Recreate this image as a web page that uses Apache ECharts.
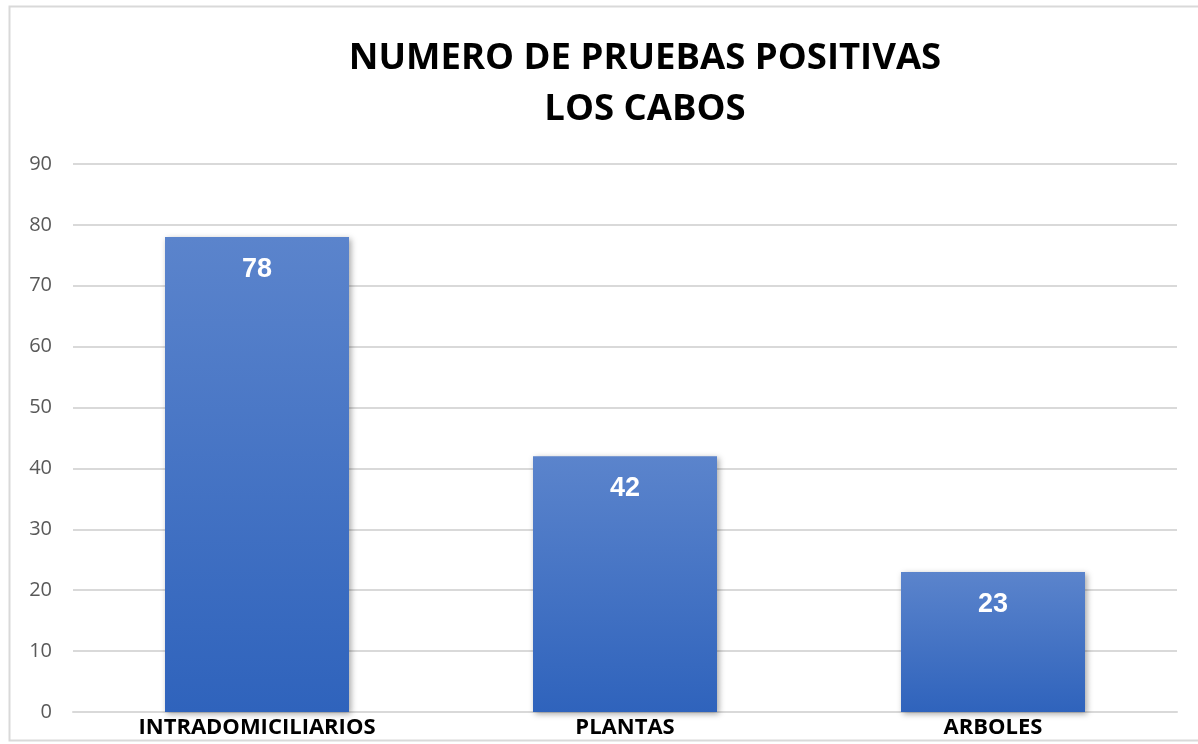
<!DOCTYPE html>
<html>
<head>
<meta charset="utf-8">
<script src="https://cdn.jsdelivr.net/npm/echarts@6/dist/echarts.min.js"></script>
<style>
  html, body { margin: 0; padding: 0; background: #fff; }
  #chart { width: 1198px; height: 744px; }
</style>
</head>
<body>
<div id="chart"></div>
<script>
// datos de la grafica
const categorias = ["INTRADOMICILIARIOS", "PLANTAS", "ARBOLES"];
const pruebasPositivas = [78, 42, 23];
const titulo = "NUMERO DE PRUEBAS POSITIVAS\nLOS CABOS";

const chart = echarts.init(document.getElementById("chart"));

const option = {
  backgroundColor: "#fff",
  animation: false,
  graphic: [
    {
      type: "rect",
      shape: { x: 9.5, y: 6.5, width: 1200, height: 734 },
      style: { fill: "none", stroke: "#d9d9d9", lineWidth: 2 },
      silent: true,
    },
  ],
  title: {
    text: titulo,
    left: 645,
    textAlign: "center",
    top: 28,
    textStyle: {
      fontFamily: "Open Sans",
      fontWeight: "bold",
      fontSize: 36.5,
      lineHeight: 51,
      color: "#000",
    },
  },
  grid: { left: 73, right: 21, top: 164, bottom: 32 },
  xAxis: {
    type: "category",
    data: categorias,
    axisTick: { show: false },
    axisLine: { lineStyle: { color: "#d9d9d9", width: 2 } },
    axisLabel: {
      color: "#000",
      fontFamily: "Open Sans",
      fontWeight: "bold",
      fontSize: 22,
      margin: 5,
    },
  },
  yAxis: {
    type: "value",
    min: 0,
    max: 90,
    interval: 10,
    axisLine: { show: false },
    axisTick: { show: false },
    splitLine: { lineStyle: { color: "#d9d9d9", width: 2 } },
    axisLabel: {
      color: "#595959",
      fontFamily: "Open Sans",
      fontSize: 20,
      margin: 21,
    },
  },
  series: [
    {
      type: "bar",
      data: pruebasPositivas,
      barWidth: "50%",
      itemStyle: {
        color: new echarts.graphic.LinearGradient(0, 0, 0, 1, [
          { offset: 0, color: "#5b84cc" },
          { offset: 1, color: "#2f63bc" },
        ]),
        shadowColor: "rgba(0,0,0,0.35)",
        shadowBlur: 6,
        shadowOffsetX: 2,
        shadowOffsetY: 2,
      },
      label: {
        show: true,
        position: "insideTop",
        distance: 19,
        color: "#fff",
        fontFamily: "Liberation Sans",
        fontWeight: "bold",
        fontSize: 27,
      },
    },
  ],
};

option.title.left = 640;
chart.setOption(option);
</script>
</body>
</html>
